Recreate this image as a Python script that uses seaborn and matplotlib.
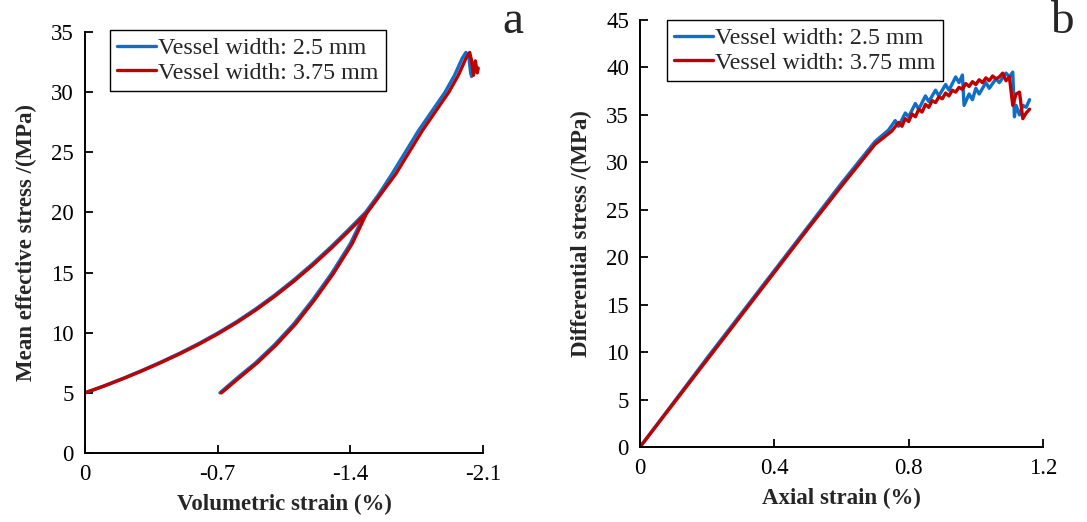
import numpy as np
import pandas as pd
import matplotlib
matplotlib.use("Agg")
import matplotlib.pyplot as plt
import seaborn as sns

# ---------------- data ----------------
series_names = ["Vessel width: 2.5 mm", "Vessel width: 3.75 mm"]
colors = ["#0F6FC6", "#C00000"]

# Panel a: volumetric strain (%) vs mean effective stress (MPa)
a_blue_x1 = [0, -0.1, -0.2, -0.3, -0.4, -0.5, -0.6, -0.7, -0.8, -0.9, -1.0, -1.1, -1.2, -1.3, -1.4, -1.48,
             -1.55, -1.62, -1.69, -1.76, -1.83, -1.9, -1.95, -1.99, -2.01, -2.025, -2.035, -2.04, -2.05, -2.055]
a_blue_y1 = [5, 5.58, 6.20, 6.86, 7.56, 8.30, 9.10, 9.97, 10.92, 11.97, 13.12, 14.37, 15.72, 17.17, 18.72, 20.0,
             21.5, 23.2, 25.0, 26.8, 28.4, 30.0, 31.4, 32.8, 33.3, 33.0, 31.6, 31.3, 32.1, 31.8]
a_blue_x2 = [-0.712, -0.8, -0.9, -1.0, -1.1, -1.2, -1.3, -1.4, -1.477]
a_blue_y2 = [5.0, 6.2, 7.5, 9.0, 10.7, 12.7, 14.9, 17.4, 19.9]
a_red_x1 = [0, -0.1, -0.2, -0.3, -0.4, -0.5, -0.6, -0.7, -0.8, -0.9, -1.0, -1.1, -1.2, -1.3, -1.4, -1.49,
            -1.56, -1.64, -1.71, -1.78, -1.85, -1.92, -1.97, -2.01, -2.03, -2.04, -2.05, -2.06, -2.07, -2.075]
a_red_y1 = [5, 5.56, 6.17, 6.82, 7.51, 8.24, 9.03, 9.89, 10.83, 11.87, 13.01, 14.25, 15.59, 17.03, 18.57, 20.0,
            21.5, 23.2, 25.0, 26.8, 28.4, 30.0, 31.4, 32.8, 33.3, 32.6, 31.4, 32.6, 31.6, 32.0]
a_red_x2 = [-0.72, -0.81, -0.91, -1.01, -1.11, -1.21, -1.31, -1.41, -1.485]
a_red_y2 = [5.0, 6.2, 7.5, 9.0, 10.7, 12.7, 14.9, 17.4, 19.9]

# Panel b: axial strain (%) vs differential stress (MPa)
b_blue_x = [0, 0.1, 0.2, 0.3, 0.4, 0.5, 0.6, 0.7, 0.74, 0.76, 0.77, 0.79, 0.80, 0.82, 0.83, 0.85, 0.86,
            0.88, 0.89, 0.91, 0.92, 0.94, 0.95, 0.96, 0.965, 0.98, 0.99, 1.00, 1.01, 1.03, 1.04, 1.06, 1.07,
            1.09, 1.10, 1.11, 1.115, 1.12, 1.13, 1.14, 1.15, 1.16]
b_blue_y = [0, 4.7, 9.4, 14.0, 18.6, 23.2, 27.8, 32.2, 33.4, 34.4, 33.8, 35.2, 34.8, 36.2, 35.6, 37.0, 36.4,
            37.6, 37.0, 38.2, 37.6, 39.0, 38.4, 39.2, 36.0, 37.2, 36.6, 37.8, 37.2, 38.4, 37.8, 38.8, 38.4,
            39.4, 39.0, 39.5, 34.8, 36.0, 35.0, 36.0, 35.8, 36.6]
b_red_x = [0, 0.1, 0.2, 0.3, 0.4, 0.5, 0.6, 0.7, 0.75, 0.77, 0.78, 0.79, 0.80, 0.81, 0.82, 0.83, 0.84,
           0.85, 0.86, 0.87, 0.88, 0.89, 0.90, 0.91, 0.92, 0.93, 0.94, 0.95, 0.96, 0.97, 0.98, 0.99, 1.00,
           1.01, 1.02, 1.03, 1.04, 1.05, 1.06, 1.07, 1.08, 1.09, 1.10, 1.11, 1.12, 1.13, 1.14, 1.15, 1.16]
b_red_y = [0, 4.6, 9.2, 13.8, 18.4, 23.0, 27.5, 31.9, 33.3, 34.2, 33.8, 34.6, 34.3, 35.1, 34.8, 35.6, 35.3,
           36.1, 35.8, 36.5, 36.3, 36.9, 36.7, 37.3, 37.0, 37.6, 37.4, 37.9, 37.7, 38.3, 38.0, 38.5, 38.2,
           38.7, 38.4, 38.9, 38.6, 39.1, 38.8, 39.0, 39.4, 38.6, 39.0, 36.0, 37.2, 37.4, 34.6, 35.2, 35.6]

a_xticks = [0, -0.7, -1.4, -2.1]
a_xticklabels = ["0", "-0.7", "-1.4", "-2.1"]
a_yticks = [0, 5, 10, 15, 20, 25, 30, 35]
b_xticks = [0, 0.4, 0.8, 1.2]
b_xticklabels = ["0", "0.4", "0.8", "1.2"]
b_yticks = [0, 5, 10, 15, 20, 25, 30, 35, 40, 45]

# ---------------- frames ----------------
def frame(parts):
    rows = []
    for name, seg, xs, ys in parts:
        for i, (x, y) in enumerate(zip(xs, ys)):
            rows.append({"x": x, "y": y, "series": name, "seg": seg, "order": i})
    return pd.DataFrame(rows)

df_a = frame([
    (series_names[0], 0, a_blue_x1, a_blue_y1),
    (series_names[0], 1, a_blue_x2, a_blue_y2),
    (series_names[1], 2, a_red_x1, a_red_y1),
    (series_names[1], 3, a_red_x2, a_red_y2),
])
df_b = frame([
    (series_names[0], 0, b_blue_x, b_blue_y),
    (series_names[1], 1, b_red_x, b_red_y),
])

# ---------------- style ----------------
sns.set_theme(style="ticks")
plt.rcParams["font.family"] = ["Liberation Serif", "DejaVu Serif"]
plt.rcParams["axes.unicode_minus"] = False

fig = plt.figure(figsize=(10.87, 5.22), dpi=100)
ax_a = fig.add_axes([0.0782, 0.1322, 0.3661, 0.8065])
ax_b = fig.add_axes([0.5888, 0.1437, 0.3707, 0.8180])

palette = dict(zip(series_names, colors))

for ax, df in ((ax_a, df_a), (ax_b, df_b)):
    sns.lineplot(data=df, x="x", y="y", hue="series", units="seg", estimator=None,
                 sort=False, palette=palette, linewidth=2.4, ax=ax, legend=True)

def style_axes(ax, xticks, xlabels, yticks, xlim, ylim, xlabel, ylabel):
    ax.set_xlim(*xlim)
    ax.set_ylim(*ylim)
    ax.set_xticks(xticks)
    ax.set_xticklabels(xlabels)
    ax.set_yticks(yticks)
    ax.set_yticklabels([str(t) for t in yticks])
    ax.tick_params(direction="in", length=6, width=1.3, labelsize=16.5, colors="black", pad=8)
    for s in ("top", "right"):
        ax.spines[s].set_visible(False)
    for s in ("left", "bottom"):
        ax.spines[s].set_linewidth(1.4)
        ax.spines[s].set_color("black")
    ax.set_xlabel(xlabel, fontsize=16.5, fontweight="bold", labelpad=6)
    ax.set_ylabel(ylabel, fontsize=16.5, fontweight="bold", labelpad=10)

style_axes(ax_a, a_xticks, a_xticklabels, a_yticks, (0, -2.1), (0, 35),
           "Volumetric strain (%)", "Mean effective stress /(MPa)")
style_axes(ax_b, b_xticks, b_xticklabels, b_yticks, (0, 1.2), (0, 45),
           "Axial strain (%)", "Differential stress /(MPa)")

for ax, anchor in ((ax_a, (0.063, 1.005)), (ax_b, (0.067, 1.0))):
    handles, labels = ax.get_legend_handles_labels()
    leg = ax.legend(handles, labels, loc="upper left", bbox_to_anchor=anchor, fontsize=17.3,
                    frameon=True, fancybox=False, edgecolor="black", framealpha=1,
                    handlelength=1.6, handletextpad=0.1, borderpad=0.3, labelspacing=0.12,
                    borderaxespad=0)
    leg.get_frame().set_linewidth(1.0)
    for ln in leg.get_lines():
        ln.set_linewidth(2.4)

fig.text(513 / 1087, 1 - 22 / 522, "a", fontsize=34, ha="center", va="center")
fig.text(1062 / 1087, 1 - 22 / 522, "b", fontsize=34, ha="center", va="center")

fig.savefig("out.png", dpi=100)
